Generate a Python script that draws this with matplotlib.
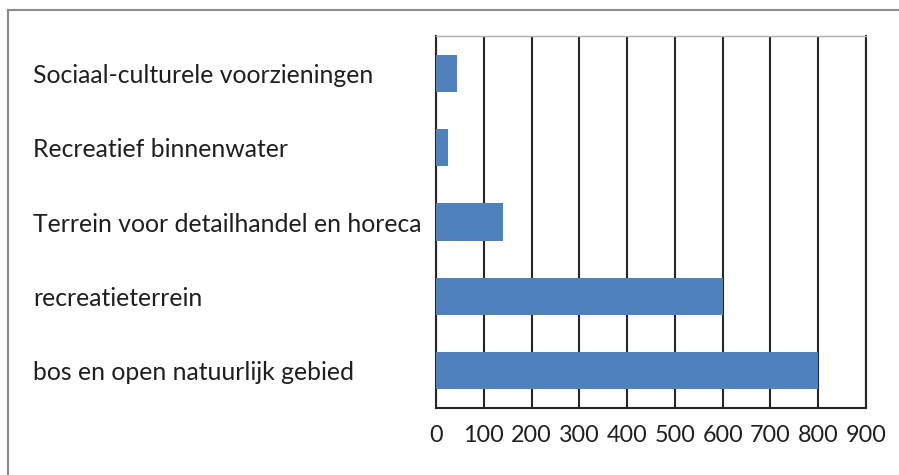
import matplotlib.pyplot as plt
from matplotlib.lines import Line2D

categories = ["bos en open natuurlijk gebied", "recreatieterrein",
              "Terrein voor detailhandel en horeca", "Recreatief binnenwater",
              "Sociaal-culturele voorzieningen"]
values = [800, 600, 140, 25, 44]
xticks = [0, 100, 200, 300, 400, 500, 600, 700, 800, 900]

plt.rcParams['font.family'] = ['Lato', 'DejaVu Sans']

fig = plt.figure(figsize=(8.99, 4.75), dpi=100)
ax = fig.add_axes([436/899, 1-408/475, 430/899, 372/475])

ax.barh(range(len(categories)), values, height=0.5, color="#4F81BD", zorder=3)
ax.set_xlim(0, 900)
ax.set_ylim(-0.5, len(categories)-0.5)
ax.set_xticks(xticks)
ax.set_xticklabels([str(v) for v in xticks])
ax.set_yticks(range(len(categories)))
ax.set_yticklabels(categories, ha="left")
ax.grid(axis="x", color="#262626", linewidth=1.5, zorder=0)
ax.tick_params(axis="y", length=0, pad=403*0.72, labelsize=17.8, labelcolor="#1f1f1f")
ax.tick_params(axis="x", length=0, pad=12, labelsize=16.8, labelcolor="#1f1f1f")
for s in ["left", "right", "bottom"]:
    ax.spines[s].set_color("#262626")
    ax.spines[s].set_linewidth(1.5)
ax.spines["top"].set_color("#b0b0b0")
ax.spines["top"].set_linewidth(1)

# outer frame (left and top only visible)
fig.add_artist(Line2D([7.5/899, 7.5/899], [0, 1-10/475], color="#8a8a8a", linewidth=1.5))
fig.add_artist(Line2D([7.5/899, 1], [1-10/475, 1-10/475], color="#8a8a8a", linewidth=1.5))

fig.savefig("out.png", dpi=100)
